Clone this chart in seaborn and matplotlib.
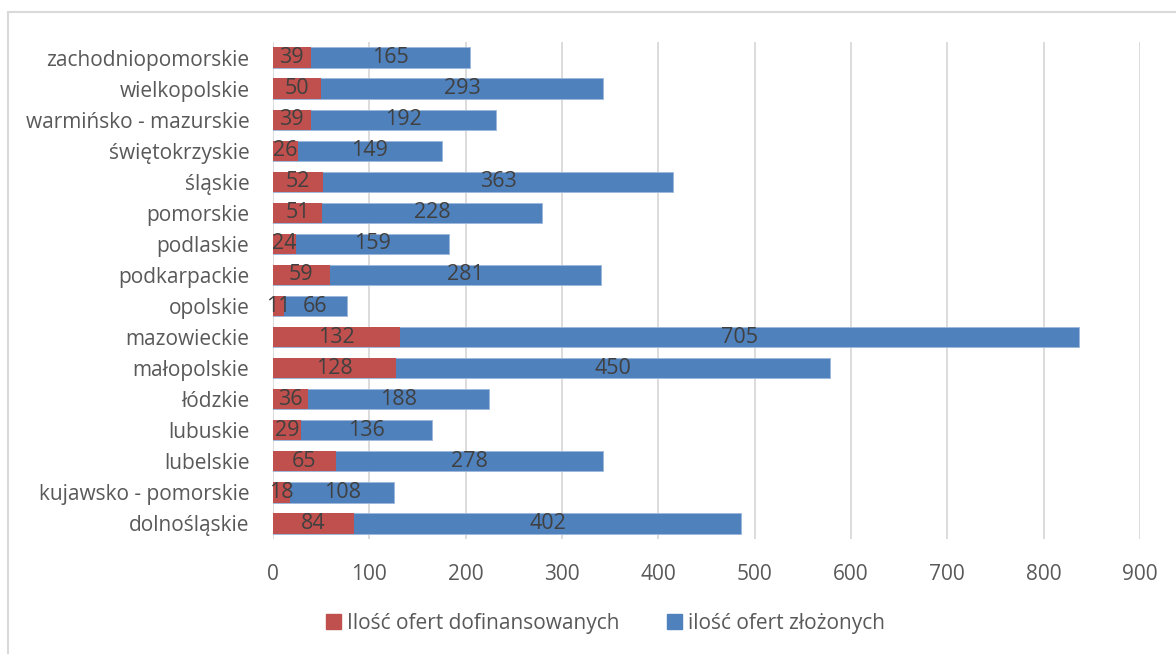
import matplotlib
matplotlib.use("Agg")
import matplotlib.pyplot as plt
import seaborn as sns
import pandas as pd
from matplotlib.lines import Line2D
from matplotlib.patches import Patch

# Data (top to bottom as in the chart)
regions = ['zachodniopomorskie', 'wielkopolskie', 'warmińsko - mazurskie', 'świętokrzyskie',
           'śląskie', 'pomorskie', 'podlaskie', 'podkarpackie', 'opolskie', 'mazowieckie',
           'małopolskie', 'łódzkie', 'lubuskie', 'lubelskie', 'kujawsko - pomorskie', 'dolnośląskie']
funded = [39, 50, 39, 26, 52, 51, 24, 59, 11, 132, 128, 36, 29, 65, 18, 84]
submitted = [165, 293, 192, 149, 363, 228, 159, 281, 66, 705, 450, 188, 136, 278, 108, 402]
xticks = [0, 100, 200, 300, 400, 500, 600, 700, 800, 900]

red = '#C0504D'
blue = '#4F81BD'
label_col = '#404040'
tick_col = '#595959'

df = pd.DataFrame({'region': regions, 'funded': funded, 'submitted': submitted})
df['total'] = df['funded'] + df['submitted']

sns.set_style('white')
plt.rcParams['font.family'] = ['Open Sans', 'DejaVu Sans']

fig = plt.figure(figsize=(11.76, 6.54), dpi=100)
ax = fig.add_axes([273 / 1176, 1 - 539 / 654, (1140 - 273) / 1176, (539 - 42) / 654])

# stacked: blue total bar underneath, red segment on top
sns.barplot(data=df, x='total', y='region', color=blue, saturation=1, width=0.65,
            edgecolor='#9DB7DC', linewidth=0.6, ax=ax, zorder=2)
sns.barplot(data=df, x='funded', y='region', color=red, saturation=1, width=0.65,
            linewidth=0, ax=ax, zorder=3)

# value labels centred in each segment
for i, row in df.iterrows():
    ax.text(row['funded'] / 2, i, str(row['funded']), ha='center', va='center',
            fontsize=15.5, color=label_col, zorder=5)
    ax.text(row['funded'] + row['submitted'] / 2, i, str(row['submitted']), ha='center',
            va='center', fontsize=15.5, color=label_col, zorder=5)

ax.set_xlim(0, 900)
ax.set_ylim(len(regions) - 0.5, -0.5)
ax.set_xticks(xticks)
ax.set_xticklabels([str(t) for t in xticks])
ax.xaxis.grid(True, color='#D9D9D9', linewidth=1.3, zorder=0)
ax.set_axisbelow(True)
for s in ax.spines.values():
    s.set_visible(False)
ax.tick_params(axis='x', length=0, pad=18, labelsize=15, labelcolor=tick_col)
ax.tick_params(axis='y', length=0, pad=17, labelsize=15, labelcolor=tick_col)
ax.set_xlabel('')
ax.set_ylabel('')

handles = [Patch(color=red, label='Ilość ofert dofinansowanych'),
           Patch(color=blue, label='ilość ofert złożonych')]
leg = fig.legend(handles=handles, loc='center', bbox_to_anchor=(0.515, 1 - 623 / 654), ncol=2,
                 frameon=False, fontsize=15, handlelength=0.7, handleheight=0.7,
                 handletextpad=0.3, columnspacing=2.3)
for t in leg.get_texts():
    t.set_color(tick_col)

# outer chart border (top and left visible)
fig.add_artist(Line2D([8 / 1176, 1], [1 - 12 / 654, 1 - 12 / 654], color='#D9D9D9', lw=1.5,
                      transform=fig.transFigure))
fig.add_artist(Line2D([8 / 1176, 8 / 1176], [0, 1 - 12 / 654], color='#D9D9D9', lw=1.5,
                      transform=fig.transFigure))

fig.savefig('out.png', dpi=100)
